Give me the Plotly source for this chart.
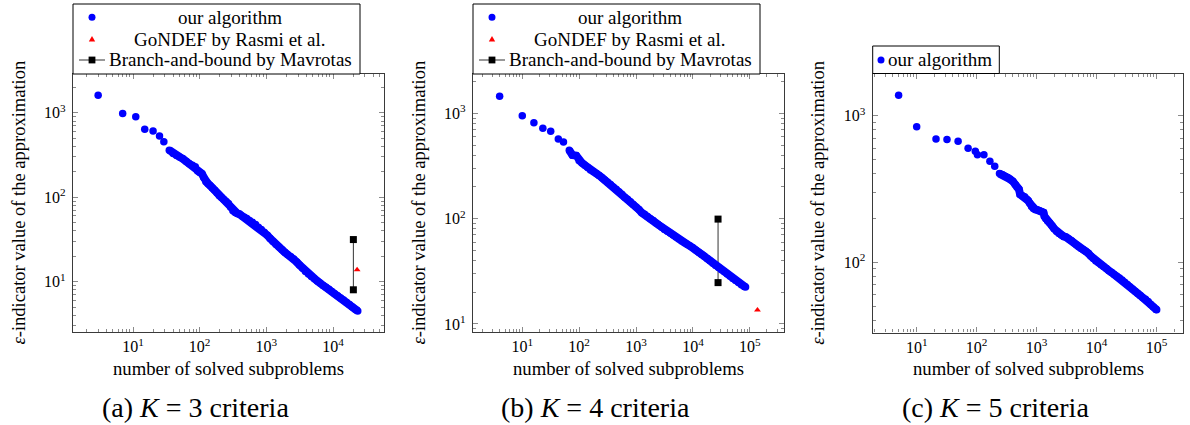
import plotly.graph_objects as go

W, H = 1190, 425

# ---------------- data: (a) K = 3 criteria ----------------
a_ours_x = [3, 7, 11, 15, 20, 25, 29, 35, 40, 45, 50, 56, 63, 70, 78, 86, 93, 100, 108, 116,
            124, 133, 143, 155, 168, 182, 197, 212, 230, 250, 270, 292, 315, 340, 365, 395,
            430, 470, 510, 560, 620, 690, 760, 840, 930, 1030, 1140, 1260, 1400, 1550, 1720,
            1900, 2100, 2330, 2580, 2850, 3150, 3500, 3870, 4280, 4740, 5250, 5800, 6400,
            7100, 7850, 8700, 9600, 10600, 11700, 13000, 14400, 15900, 17600, 19500, 21500,
            23500]
a_ours_y = [1620, 980, 900, 640, 610, 533, 453, 361, 330, 312, 300, 285, 265, 250, 240, 230,
            205, 196, 190, 170, 152, 145, 138, 129, 121, 112, 104, 99, 94, 89, 84, 76, 69,
            66, 64.5, 63, 60, 58, 56, 53, 50.5, 47.5, 44, 41.5, 38.5, 35.5, 32.5, 29.8, 27.5,
            25.7, 23.8, 22.2, 20.8, 19.7, 18.5, 17.1, 15.7, 14.4, 13.2, 12.3, 11.5, 10.8,
            10.2, 9.6, 9.0, 8.55, 8.1, 7.65, 7.2, 6.8, 6.4, 6.05, 5.7, 5.35, 5.0, 4.72, 4.48]
a_gondef_x = [23000]
a_gondef_y = [13.8]
a_bb_x = [20200, 20200]
a_bb_y = [31.5, 8.0]

# ---------------- data: (b) K = 4 criteria ----------------
b_ours_x = [4, 10, 16, 23, 31.6, 43, 53, 67, 76, 89, 100, 112, 126, 141, 158, 178, 200, 224,
            251, 282, 316, 355, 398, 447, 501, 562, 631, 708, 794, 891, 1000, 1120, 1260,
            1410, 1580, 1780, 2000, 2240, 2510, 2820, 3160, 3550, 3980, 4470, 5010, 5620,
            6310, 7080, 7940, 8910, 10000, 11200, 12600, 14100, 15800, 17800, 20000, 22400,
            25100, 28200, 31600, 35500, 39800, 44700, 50100, 56200, 63100, 70800, 79400,
            84000]
b_ours_y = [1450, 950, 815, 720, 674, 570, 534, 445, 402, 396, 355, 338, 322, 305, 290, 278,
            268, 257, 245, 233, 222, 211, 200, 190, 180, 170, 160, 153, 145, 136, 129, 122,
            114, 110, 105, 100, 96, 91, 87, 83, 79, 76, 73, 70, 67, 64, 61.5, 59, 57, 55, 53,
            50.5, 48, 46, 44, 41.8, 39.8, 37.8, 36, 34.4, 32.8, 31.3, 29.8, 28.4, 27.1, 25.9,
            24.7, 23.6, 22.7, 22.4]
b_gondef_x = [136000]
b_gondef_y = [13.6]
b_bb_x = [27600, 27600]
b_bb_y = [99, 24.7]

# ---------------- data: (c) K = 5 criteria ----------------
c_ours_x = [5, 10, 21, 32, 49, 72, 95, 103, 132, 166, 200, 240, 270, 300, 330, 360, 400, 440,
            470, 505, 530, 580, 630, 680, 720, 770, 820, 880, 950, 1030, 1120, 1220, 1300,
            1350, 1420, 1520, 1650, 1800, 1960, 2150, 2350, 2570, 2800, 3100, 3450, 3830,
            4200, 4600, 5000, 5500, 6000, 6600, 7250, 8000, 8800, 9700, 10700, 11800, 13000,
            14500, 16000, 17700, 19600, 21700, 24000, 26500, 29300, 32400, 35800, 39600,
            43700, 48300, 53400, 59000, 65200, 72100, 79700, 88100, 97400, 100000]
c_ours_y = [1377, 841, 693, 686, 668, 600, 572, 540, 540, 489, 452, 402, 395, 386, 378, 368,
            356, 338, 325, 316, 290, 284, 279, 270, 263, 252, 240, 232, 229, 227, 224, 221,
            218, 205, 198, 191, 185, 177, 169, 162, 157, 153, 150, 148, 144, 140, 135, 131,
            127.5, 124, 121.5, 118.5, 115, 110, 106, 102, 99, 96, 93.5, 90.5, 87.5, 85, 82.5,
            80, 78, 75.5, 73, 70.5, 68, 65.5, 63.3, 61.2, 59.2, 57.2, 55.8, 53.8, 51.5, 49.4,
            47.6, 47.3]

# ---------------- labels ----------------
legend_labels = ["our algorithm", "GoNDEF by Rasmi et al.", "Branch-and-bound by Mavrotas"]
captions = ["(a) <i>K</i> = 3 criteria", "(b) <i>K</i> = 4 criteria", "(c) <i>K</i> = 5 criteria"]
x_title = "number of solved subproblems"
y_title = "<i>ε</i>-indicator value of the approximation"
tick_vals = [1, 10, 100, 1000, 10000, 100000]
tick_text = ["10<sup>0</sup>", "10<sup>1</sup>", "10<sup>2</sup>", "10<sup>3</sup>",
             "10<sup>4</sup>", "10<sup>5</sup>"]

# ---------------- styling ----------------
FONT = "Liberation Serif"
BLUE = "#0000ff"
RED = "#ff0000"
BLACK = "#000000"

def px(x):
    return x / W

def py(y):
    return 1 - y / H

# panel geometry in figure pixels: (left, right, top, bottom), log ranges
panels = [
    dict(l=73, r=384, t=74, b=332, xr=[0.1, 4.765], yr=[0.403, 3.46], dense=7),
    dict(l=473, r=784, t=74, b=332, xr=[0.134, 5.6], yr=[0.924, 3.373], dense=7),
    dict(l=872.7, r=1183.3, t=74, b=332.5, xr=[0.267, 5.444], yr=[1.52, 3.284], dense=11),
]

fig = go.Figure()

series = [
    (a_ours_x, a_ours_y, a_gondef_x, a_gondef_y, a_bb_x, a_bb_y),
    (b_ours_x, b_ours_y, b_gondef_x, b_gondef_y, b_bb_x, b_bb_y),
    (c_ours_x, c_ours_y, None, None, None, None),
]

for i, (ox, oy, gx, gy, bx, by) in enumerate(series):
    sfx = "" if i == 0 else str(i + 1)
    xa, ya = "x" + sfx, "y" + sfx
    d = panels[i]["dense"]
    if bx is not None:
        fig.add_trace(go.Scatter(x=bx, y=by, mode="lines+markers", xaxis=xa, yaxis=ya,
                                 name=legend_labels[2], showlegend=False,
                                 line=dict(color="#333333", width=1),
                                 marker=dict(symbol="square", size=7, color=BLACK)))
    # the dense part of the run forms a solid band of overlapping dots
    fig.add_trace(go.Scatter(x=ox[d:], y=oy[d:], mode="lines", xaxis=xa, yaxis=ya,
                             showlegend=False, hoverinfo="skip",
                             line=dict(color=BLUE, width=8)))
    fig.add_trace(go.Scatter(x=ox, y=oy, mode="markers", xaxis=xa, yaxis=ya,
                             name=legend_labels[0], showlegend=False,
                             marker=dict(symbol="circle", size=7.5, color=BLUE,
                                         line=dict(width=0))))
    if gx is not None:
        fig.add_trace(go.Scatter(x=gx, y=gy, mode="markers", xaxis=xa, yaxis=ya,
                                 name=legend_labels[1], showlegend=False,
                                 marker=dict(symbol="triangle-up", size=6, color=RED,
                                             line=dict(width=0))))

axis_common = dict(
    type="log", tickmode="array", tickvals=tick_vals, ticktext=tick_text,
    showgrid=False, zeroline=False, showline=True, linecolor="#3a3a3a", linewidth=1.2,
    mirror="ticks", ticks="inside", ticklen=5, tickwidth=1, tickcolor="#8a8a8a",
    minor=dict(ticks="inside", ticklen=3, tickwidth=1, tickcolor="#8a8a8a",
               dtick="D1", showgrid=False),
    tickfont=dict(family=FONT, size=16, color=BLACK),
    automargin=False,
)

annotations = []
shapes = []
for i, p in enumerate(panels):
    sfx = "" if i == 0 else str(i + 1)
    fig.layout["xaxis" + sfx] = dict(axis_common, domain=[px(p["l"]), px(p["r"])],
                                     range=p["xr"], anchor="y" + sfx)
    fig.layout["yaxis" + sfx] = dict(axis_common, domain=[py(p["b"]), py(p["t"])],
                                     range=p["yr"], anchor="x" + sfx, ticklabelstandoff=3)
    cx = (p["l"] + p["r"]) / 2
    annotations.append(dict(text=x_title, x=px(cx), y=py(368), xref="paper", yref="paper",
                            showarrow=False, xanchor="center", yanchor="middle",
                            font=dict(family=FONT, size=18.7, color=BLACK)))
    ytx = [18.5, 418.5, 818.5][i]
    annotations.append(dict(text=y_title, x=px(ytx), y=py((p["t"] + p["b"]) / 2),
                            xref="paper", yref="paper", showarrow=False, textangle=-90,
                            xanchor="center", yanchor="middle",
                            font=dict(family=FONT, size=18.5, color=BLACK)))
    annotations.append(dict(text=captions[i], x=px(cx - 33), y=py(407), xref="paper",
                            yref="paper", showarrow=False, xanchor="center",
                            yanchor="middle", font=dict(family=FONT, size=28, color=BLACK)))

# legends for panels (a) and (b)
for dx in (0, 400):
    shapes.append(dict(type="rect", xref="paper", yref="paper", x0=px(73 + dx), x1=px(360 + dx),
                       y0=py(74), y1=py(4), line=dict(color=BLACK, width=1),
                       fillcolor="white", layer="above"))
    sx = 92 + dx
    shapes.append(dict(type="circle", xref="paper", yref="paper", x0=px(sx - 3.5),
                       x1=px(sx + 3.5), y0=py(17.3 + 3.5), y1=py(17.3 - 3.5),
                       fillcolor=BLUE, line=dict(width=0), layer="above"))
    shapes.append(dict(type="path", xref="paper", yref="paper",
                       path=f"M {px(sx - 3.2)} {py(41.6)} L {px(sx + 3.2)} {py(41.6)} "
                            f"L {px(sx)} {py(36.0)} Z",
                       fillcolor=RED, line=dict(width=0), layer="above"))
    shapes.append(dict(type="line", xref="paper", yref="paper", x0=px(79 + dx), x1=px(105 + dx),
                       y0=py(60), y1=py(60), line=dict(color="#333333", width=1), layer="above"))
    shapes.append(dict(type="rect", xref="paper", yref="paper", x0=px(sx - 3.4),
                       x1=px(sx + 3.4), y0=py(63.4), y1=py(56.6),
                       fillcolor=BLACK, line=dict(width=0), layer="above"))
    for lab, yy in zip(legend_labels, (17.3, 39, 60)):
        annotations.append(dict(text=lab, x=px(230 + dx), y=py(yy), xref="paper", yref="paper",
                                showarrow=False, xanchor="center", yanchor="middle",
                                font=dict(family=FONT, size=19, color=BLACK)))

# legend for panel (c)
shapes.append(dict(type="rect", xref="paper", yref="paper", x0=px(872.7), x1=px(999.3),
                   y0=py(73.5), y1=py(46), line=dict(color=BLACK, width=1),
                   fillcolor="white", layer="above"))
shapes.append(dict(type="circle", xref="paper", yref="paper", x0=px(881 - 3.5), x1=px(881 + 3.5),
                   y0=py(60 + 3.5), y1=py(60 - 3.5), fillcolor=BLUE, line=dict(width=0),
                   layer="above"))
annotations.append(dict(text=legend_labels[0], x=px(886), y=py(60), xref="paper", yref="paper",
                        showarrow=False, xanchor="left", yanchor="middle",
                        font=dict(family=FONT, size=19, color=BLACK)))

fig.update_layout(
    width=W, height=H,
    margin=dict(l=0, r=0, t=0, b=0),
    paper_bgcolor="white", plot_bgcolor="white",
    showlegend=False,
    annotations=annotations, shapes=shapes,
    font=dict(family=FONT, color=BLACK),
)

fig.write_html("out.html", config={"displayModeBar": False},
               post_script="document.body.style.margin='0';document.body.style.overflow='hidden';")
